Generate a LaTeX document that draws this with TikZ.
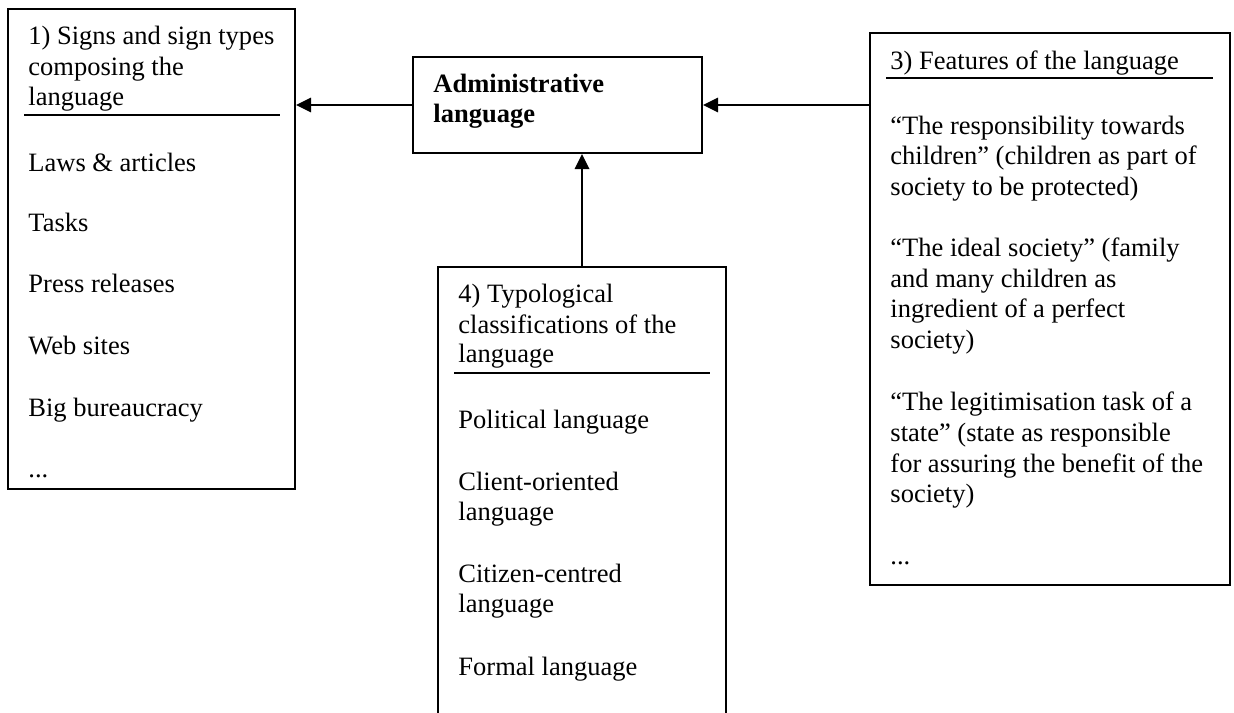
\documentclass[tikz,border=0pt]{standalone}
\usepackage{fontspec}
\setmainfont{Liberation Serif}
\usetikzlibrary{arrows.meta, fit, positioning, calc}

\tikzset{
	panel/.style={draw, line width=0.9pt, inner sep=0pt},
	txt/.style={anchor=base west, inner sep=0pt, font=\fontsize{12}{14}\selectfont},
	conn/.style={-{Triangle[length=6.8pt,width=6.6pt]}, line width=0.7pt},
	rule/.style={line width=0.7pt}
}

\begin{document}
\begin{tikzpicture}[x=0.4528pt, y=-0.4528pt]
		\useasboundingbox (0,0) rectangle (1234,713);
		\clip (0,0) rectangle (1234,713);
		% boxes
		\node[panel, fit={(8,9) (295,489)}] (signs) {};
		\node[panel, fit={(413,57) (702,153)}] (admin) {};
		\node[panel, fit={(870,33) (1230,585)}] (features) {};
		\node[panel, fit={(438,267) (726,740)}] (typology) {};
		% 1) signs
		\foreach \t/\y [count=\i] in {{1) Signs and sign types}/45, {composing the}/75.5, {language}/106,
			{Laws \& articles}/172, {Tasks}/232, {Press releases}/293, {Web sites}/355,
			{Big bureaucracy}/416, {...}/477}
			\node[txt] (sgn-\i) at (28,\y) {\t};
		\draw[rule] (24,115) -- (280,115);
		% administrative language
		\node[txt, font=\fontsize{12}{14}\selectfont\bfseries] (adm-1) at (433,93) {Administrative};
		\node[txt, font=\fontsize{12}{14}\selectfont\bfseries] (adm-2) at (433,123) {language};
		% 3) features
		\foreach \t/\y [count=\i] in {{3) Features of the language}/70,
			{“The responsibility towards}/134.5, {children” (children as part of}/165, {society to be protected)}/196,
			{“The ideal society” (family}/257, {and many children as}/288, {ingredient of a perfect}/318, {society)}/349,
			{“The legitimisation task of a}/410, {state” (state as responsible}/441, {for assuring the benefit of the}/472, {society)}/502,
			{...}/564}
			\node[txt] (ftr-\i) at (890,\y) {\t};
		\draw[rule] (886,78) -- (1213,78);
		% 4) typology
		\foreach \t/\y [count=\i] in {{4) Typological}/303, {classifications of the}/333, {language}/363,
			{Political language}/428, {Client-oriented}/490, {language}/520,
			{Citizen-centred}/582, {language}/612, {Formal language}/675}
			\node[txt] (typ-\i) at (458,\y) {\t};
		\draw[rule] (454,373) -- (710,373);
		% connectors
		\draw[conn] (admin.west) -- (admin.west -| signs.east);
		\draw[conn] (features.west |- admin.east) -- (admin.east);
		\draw[conn] (typology.north) -- (typology.north |- admin.south);
	\end{tikzpicture}
\end{document}
